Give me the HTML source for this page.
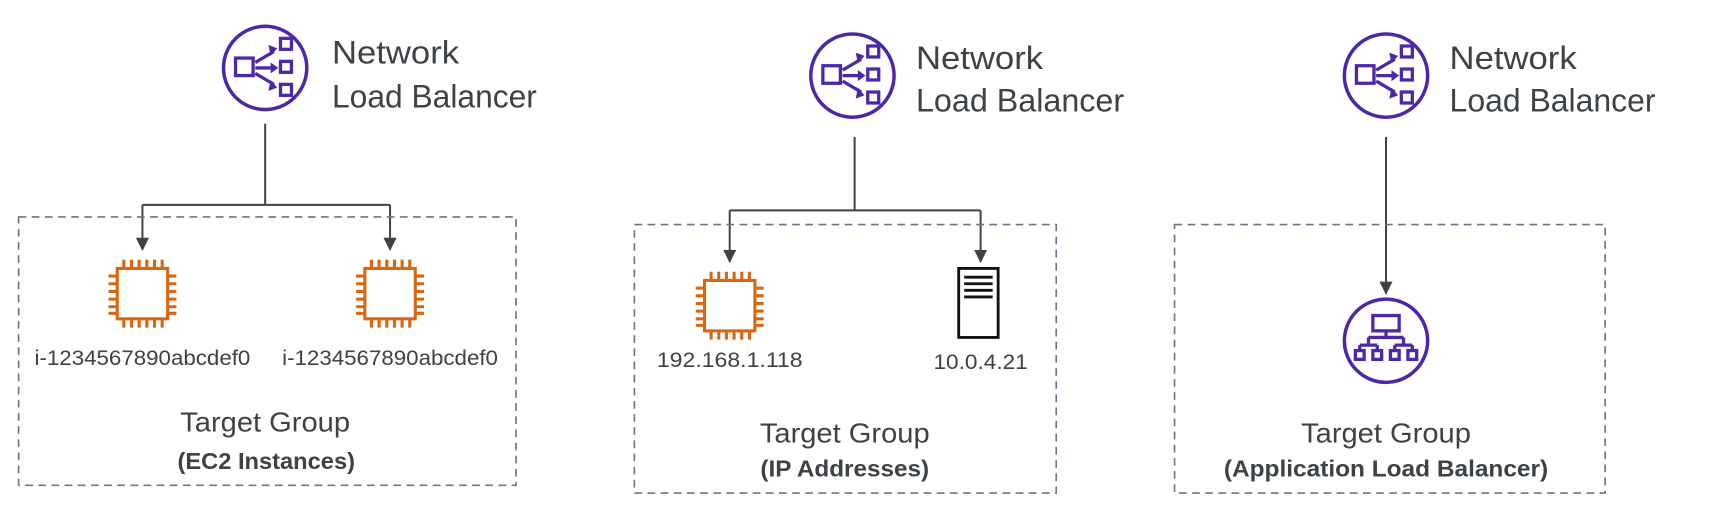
<!DOCTYPE html>
<html><head><meta charset="utf-8"><style>
html,body{margin:0;padding:0;background:#fff;}
svg{display:block;}
text{font-family:"Liberation Sans",sans-serif;fill:#3d4246;}
</style></head><body>
<svg width="1718" height="510" viewBox="0 0 1568 465.5" preserveAspectRatio="none" xmlns="http://www.w3.org/2000/svg">
<defs>
<marker id="ah" markerWidth="14" markerHeight="14" refX="11" refY="6" orient="auto" markerUnits="userSpaceOnUse">
<path d="M0,0 L12,6 L0,12 Z" fill="#3d4246"/>
</marker>
<g id="nlb">
<circle cx="0" cy="0" r="38" fill="none" stroke="#4d27aa" stroke-width="3.2"/>
<g fill="none" stroke="#4d27aa" stroke-width="3">
<rect x="-27" y="-9" width="16" height="16"/>
<rect x="14" y="-27" width="10" height="10"/>
<rect x="14" y="-6" width="10" height="10"/>
<rect x="14" y="15" width="10" height="10"/>
<path d="M-9,-5 L8,-15 M-9,0 L8,0 M-9,5 L8,15"/>
</g>
<path d="M3,-21 L11,-18 L5,-11Z M5,-5 L12,0 L5,5Z M5,11 L11,18 L3,21Z" fill="#4d27aa"/>
</g>
<g id="cpu" fill="none" stroke="#d86613" stroke-width="2.8">
<rect x="-23" y="-23" width="46" height="46"/>
<path d="M-17,-23v-8 M-10,-23v-8 M-3,-23v-8 M4,-23v-8 M11,-23v-8 M18,-23v-8
M-17,23v8 M-10,23v8 M-3,23v8 M4,23v8 M11,23v8 M18,23v8
M-23,-16h-8 M-23,-9h-8 M-23,-2h-8 M-23,5h-8 M-23,12h-8 M-23,18h-8
M23,-16h8 M23,-9h8 M23,-2h8 M23,5h8 M23,12h8 M23,18h8"/>
</g>
</defs>

<!-- Panel 1 -->
<use href="#nlb" x="242" y="62"/>
<text x="303" y="58" font-size="30" textLength="116" lengthAdjust="spacingAndGlyphs">Network</text>
<text x="303" y="98" font-size="30" textLength="187" lengthAdjust="spacingAndGlyphs">Load Balancer</text>
<path d="M242,113 V187 M130,187 H356" stroke="#3d4246" stroke-width="1.8" fill="none"/>
<path d="M130,187 V228" stroke="#3d4246" stroke-width="1.8" marker-end="url(#ah)"/>
<path d="M356,187 V228" stroke="#3d4246" stroke-width="1.8" marker-end="url(#ah)"/>
<rect x="17" y="198" width="454" height="245" fill="none" stroke="#6b7488" stroke-width="1.5" stroke-dasharray="7,5"/>
<use href="#cpu" x="130" y="268"/>
<use href="#cpu" x="356" y="268"/>
<text x="130" y="333" font-size="19" text-anchor="middle" textLength="197" lengthAdjust="spacingAndGlyphs">i-1234567890abcdef0</text>
<text x="356" y="333" font-size="19" text-anchor="middle" textLength="197" lengthAdjust="spacingAndGlyphs">i-1234567890abcdef0</text>
<text x="242" y="394" font-size="25" text-anchor="middle" textLength="155" lengthAdjust="spacingAndGlyphs">Target Group</text>
<text x="243" y="428" font-size="21" font-weight="bold" text-anchor="middle" textLength="162" lengthAdjust="spacingAndGlyphs">(EC2 Instances)</text>

<!-- Panel 2 -->
<use href="#nlb" x="778" y="69"/>
<text x="836" y="63" font-size="30" textLength="116" lengthAdjust="spacingAndGlyphs">Network</text>
<text x="836" y="102" font-size="30" textLength="190" lengthAdjust="spacingAndGlyphs">Load Balancer</text>
<path d="M780,125 V192 M666,192 H895" stroke="#3d4246" stroke-width="1.8" fill="none"/>
<path d="M666,192 V239" stroke="#3d4246" stroke-width="1.8" marker-end="url(#ah)"/>
<path d="M895,192 V239" stroke="#3d4246" stroke-width="1.8" marker-end="url(#ah)"/>
<rect x="579" y="205" width="385" height="245" fill="none" stroke="#6b7488" stroke-width="1.5" stroke-dasharray="7,5"/>
<use href="#cpu" x="666" y="279"/>
<g fill="none" stroke="#111" stroke-width="2.6">
<rect x="875" y="245" width="36" height="63"/>
<path d="M880,253h26 M880,259h26 M880,265h26 M880,271h26"/>
</g>
<text x="666" y="335" font-size="19" text-anchor="middle" textLength="133" lengthAdjust="spacingAndGlyphs">192.168.1.118</text>
<text x="895" y="337" font-size="19" text-anchor="middle" textLength="86" lengthAdjust="spacingAndGlyphs">10.0.4.21</text>
<text x="771" y="404" font-size="25" text-anchor="middle" textLength="155" lengthAdjust="spacingAndGlyphs">Target Group</text>
<text x="771" y="435" font-size="21" font-weight="bold" text-anchor="middle" textLength="154" lengthAdjust="spacingAndGlyphs">(IP Addresses)</text>

<!-- Panel 3 -->
<use href="#nlb" x="1265" y="69"/>
<text x="1323" y="63" font-size="30" textLength="116" lengthAdjust="spacingAndGlyphs">Network</text>
<text x="1323" y="102" font-size="30" textLength="188" lengthAdjust="spacingAndGlyphs">Load Balancer</text>
<path d="M1265,125 V268" stroke="#3d4246" stroke-width="1.8" marker-end="url(#ah)"/>
<rect x="1072" y="205" width="393" height="245" fill="none" stroke="#6b7488" stroke-width="1.5" stroke-dasharray="7,5"/>
<g transform="translate(0,-31)">
<circle cx="1265" cy="342" r="38" fill="none" stroke="#4d27aa" stroke-width="3.2"/>
<g fill="none" stroke="#4d27aa" stroke-width="3">
<rect x="1253" y="319" width="24" height="14"/>
<path d="M1265,333 V339 M1249,339 H1281 M1249,339 V346 M1281,339 V346 M1241,346 H1257 M1273,346 H1289 M1241,346 V351 M1257,346 V351 M1273,346 V351 M1289,346 V351"/>
<rect x="1237" y="351" width="8" height="8"/>
<rect x="1253" y="351" width="8" height="8"/>
<rect x="1269" y="351" width="8" height="8"/>
<rect x="1285" y="351" width="8" height="8"/>
</g>
</g>
<text x="1265" y="404" font-size="25" text-anchor="middle" textLength="155" lengthAdjust="spacingAndGlyphs">Target Group</text>
<text x="1265" y="435" font-size="21" font-weight="bold" text-anchor="middle" textLength="296" lengthAdjust="spacingAndGlyphs">(Application Load Balancer)</text>
</svg>
</body></html>
